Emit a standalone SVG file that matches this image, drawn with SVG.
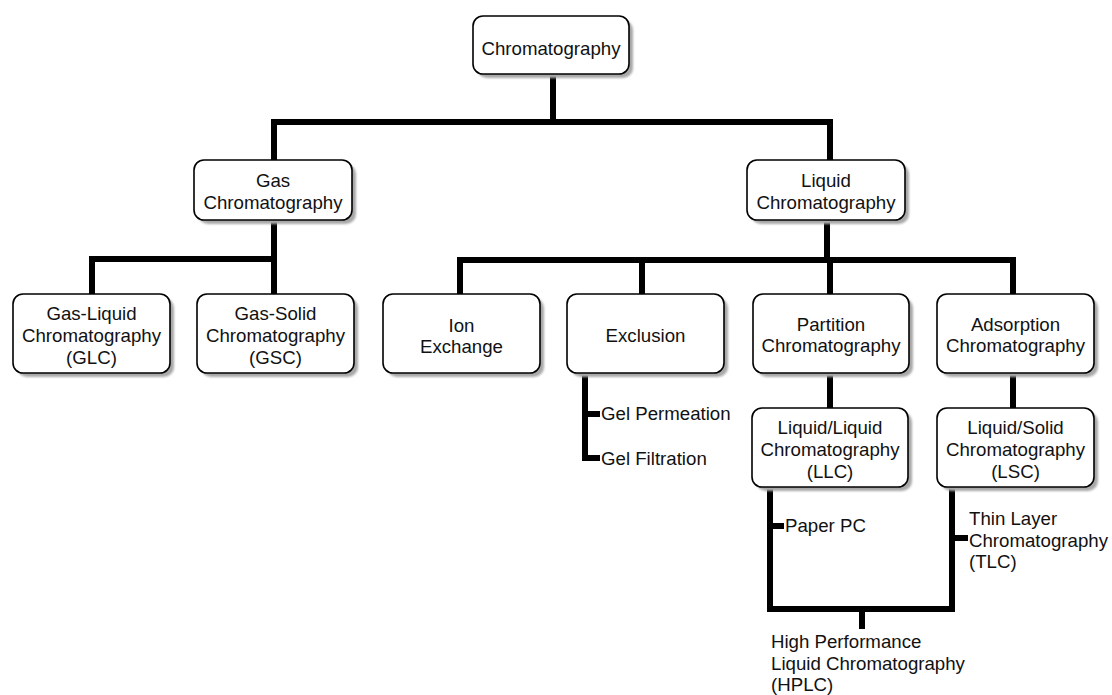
<svg xmlns="http://www.w3.org/2000/svg" width="1112" height="695" viewBox="0 0 1112 695">
<style>
  .box { fill: #ffffff; stroke: #000000; stroke-width: 1.6; }
  .shadow { fill: #a8a8a8; filter: url(#blur); }
  .t { font-family: "Liberation Sans", Arial, sans-serif; font-size: 18.67px; fill: #111111; text-anchor: middle; }
  .l { font-family: "Liberation Sans", Arial, sans-serif; font-size: 18.67px; fill: #111111; text-anchor: start; }
  .c { fill: none; stroke: #000000; stroke-width: 6; stroke-linejoin: miter; stroke-linecap: square; }
</style>
<defs>
  <filter id="blur" x="-10%" y="-10%" width="120%" height="120%">
    <feGaussianBlur stdDeviation="1.3"/>
  </filter>
</defs>
<rect width="1112" height="695" fill="#ffffff"/>

<g id="connectors">
  <path class="c" d="M553 77 V122"/>
  <path class="c" d="M274 157 V122 H830 V157"/>
  <path class="c" d="M274 223 V259"/>
  <path class="c" d="M92 291 V259 H274 V291"/>
  <path class="c" d="M827 223 V260"/>
  <path class="c" d="M460 291 V260 H1013 V291"/>
  <path class="c" d="M642 260 V291"/>
  <path class="c" d="M830 260 V291"/>
  <path class="c" d="M830 377 V405"/>
  <path class="c" d="M1013 377 V405"/>
  <path class="c" d="M585 377 V458 H597"/>
  <path class="c" d="M585 414 H597"/>
  <path class="c" d="M770 490 V609 H952 V490"/>
  <path class="c" d="M770 526 H781"/>
  <path class="c" d="M952 538 H965"/>
  <path class="c" d="M862 612 V626"/>
</g>

<g id="node-chromatography">
  <rect class="shadow" x="477" y="20" width="156" height="58" rx="10"/>
  <rect class="box" x="473" y="16" width="156" height="58" rx="10"/>
  <text class="t" x="551" y="55">Chromatography</text>
</g>

<g id="node-gas">
  <rect class="shadow" x="198" y="164" width="158" height="60" rx="10"/>
  <rect class="box" x="194" y="160" width="158" height="60" rx="10"/>
  <text class="t" x="273" y="187">Gas</text>
  <text class="t" x="273" y="209">Chromatography</text>
</g>

<g id="node-liquid">
  <rect class="shadow" x="751" y="164" width="158" height="60" rx="10"/>
  <rect class="box" x="747" y="160" width="158" height="60" rx="10"/>
  <text class="t" x="826" y="187">Liquid</text>
  <text class="t" x="826" y="209">Chromatography</text>
</g>

<g id="node-glc">
  <rect class="shadow" x="17" y="298" width="157" height="79" rx="10"/>
  <rect class="box" x="13" y="294" width="157" height="79" rx="10"/>
  <text class="t" x="91.5" y="320">Gas-Liquid</text>
  <text class="t" x="91.5" y="342">Chromatography</text>
  <text class="t" x="91.5" y="364">(GLC)</text>
</g>

<g id="node-gsc">
  <rect class="shadow" x="201" y="298" width="157" height="79" rx="10"/>
  <rect class="box" x="197" y="294" width="157" height="79" rx="10"/>
  <text class="t" x="275.5" y="320">Gas-Solid</text>
  <text class="t" x="275.5" y="342">Chromatography</text>
  <text class="t" x="275.5" y="364">(GSC)</text>
</g>

<g id="node-ion">
  <rect class="shadow" x="387" y="298" width="157" height="79" rx="10"/>
  <rect class="box" x="383" y="294" width="157" height="79" rx="10"/>
  <text class="t" x="461.5" y="332">Ion</text>
  <text class="t" x="461.5" y="353">Exchange</text>
</g>

<g id="node-exclusion">
  <rect class="shadow" x="571" y="298" width="157" height="79" rx="10"/>
  <rect class="box" x="567" y="294" width="157" height="79" rx="10"/>
  <text class="t" x="645.5" y="342">Exclusion</text>
</g>

<g id="node-partition">
  <rect class="shadow" x="757" y="298" width="156" height="79" rx="10"/>
  <rect class="box" x="753" y="294" width="156" height="79" rx="10"/>
  <text class="t" x="831" y="331">Partition</text>
  <text class="t" x="831" y="352">Chromatography</text>
</g>

<g id="node-adsorption">
  <rect class="shadow" x="941" y="298" width="157" height="79" rx="10"/>
  <rect class="box" x="937" y="294" width="157" height="79" rx="10"/>
  <text class="t" x="1015.5" y="331">Adsorption</text>
  <text class="t" x="1015.5" y="352">Chromatography</text>
</g>

<g id="node-llc">
  <rect class="shadow" x="756" y="412" width="156" height="79" rx="10"/>
  <rect class="box" x="752" y="408" width="156" height="79" rx="10"/>
  <text class="t" x="830" y="434">Liquid/Liquid</text>
  <text class="t" x="830" y="456">Chromatography</text>
  <text class="t" x="830" y="478">(LLC)</text>
</g>

<g id="node-lsc">
  <rect class="shadow" x="941" y="412" width="157" height="79" rx="10"/>
  <rect class="box" x="937" y="408" width="157" height="79" rx="10"/>
  <text class="t" x="1015.5" y="434">Liquid/Solid</text>
  <text class="t" x="1015.5" y="456">Chromatography</text>
  <text class="t" x="1015.5" y="478">(LSC)</text>
</g>

<g id="label-gel-permeation">
  <text class="l" x="601" y="420">Gel Permeation</text>
</g>
<g id="label-gel-filtration">
  <text class="l" x="601" y="465">Gel Filtration</text>
</g>
<g id="label-paper-pc">
  <text class="l" x="785" y="532">Paper PC</text>
</g>
<g id="label-tlc">
  <text class="l" x="969" y="525">Thin Layer</text>
  <text class="l" x="969" y="547">Chromatography</text>
  <text class="l" x="969" y="568">(TLC)</text>
</g>
<g id="label-hplc">
  <text class="l" x="771" y="648">High Performance</text>
  <text class="l" x="771" y="670">Liquid Chromatography</text>
  <text class="l" x="771" y="691">(HPLC)</text>
</g>
</svg>
